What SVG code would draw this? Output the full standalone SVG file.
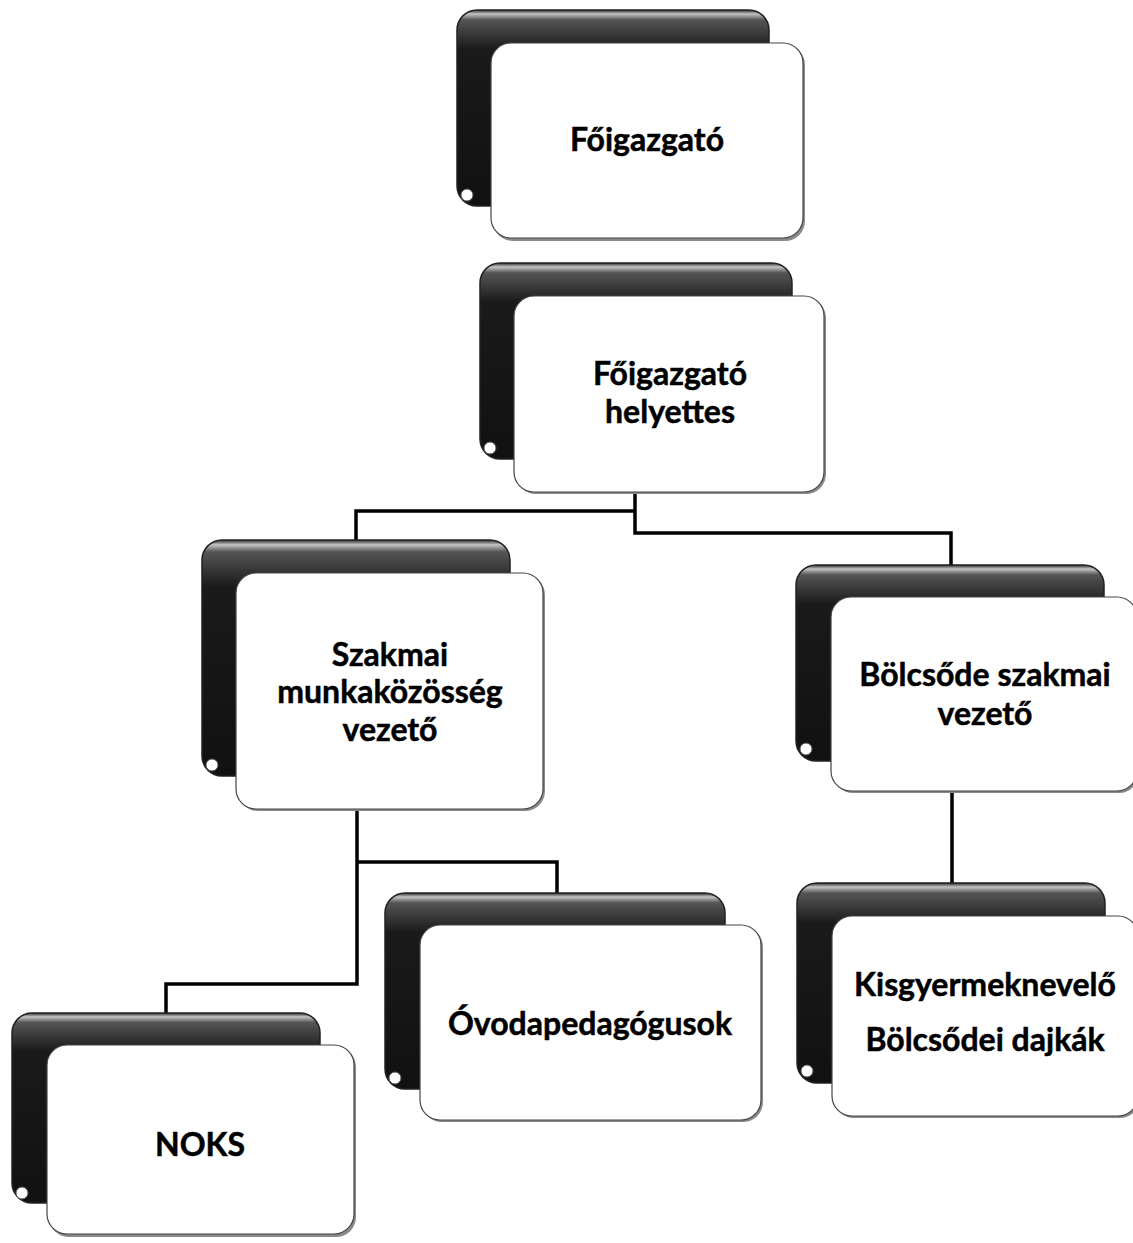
<svg xmlns="http://www.w3.org/2000/svg" width="1133" height="1243" viewBox="0 0 1133 1243">
<defs>
<linearGradient id="dark" x1="0" y1="0" x2="0" y2="1">
<stop offset="0" stop-color="#2a2a2a"/>
<stop offset="0.02" stop-color="#c4c4c4"/>
<stop offset="0.05" stop-color="#555"/>
<stop offset="0.2" stop-color="#1a1a1a"/>
<stop offset="1" stop-color="#111"/>
</linearGradient>
</defs>
<style>
.back{fill:url(#dark);stroke:#222;stroke-width:1.5}
.hole{fill:#fff;stroke:#555;stroke-width:1}
.shadow{fill:#8a8a8a}
.front{fill:#fff;stroke:#444;stroke-width:1.2}
.lbl{font-family:Lato,"Liberation Sans",sans-serif;font-weight:bold;font-size:32px;fill:#000;stroke:#000;stroke-width:0.5;text-anchor:middle}
.conn{fill:none;stroke:#000;stroke-width:3.5}
</style>
<rect width="1133" height="1243" fill="#fff"/>
<g id="connectors">
<path class="conn" d="M635,492 V533 H951 V565"/>
<path class="conn" d="M635,511 H356 V540"/>
<path class="conn" d="M952,790 V883"/>
<path class="conn" d="M357,810 V984 H166 V1013"/>
<path class="conn" d="M357,862 H557 V893"/>
</g>
<g id="n1">
<rect class="back" x="457" y="10" width="312" height="196" rx="20"/>
<circle class="hole" cx="467" cy="195" r="6"/>
<rect class="shadow" x="493" y="45" width="312" height="196" rx="20"/>
<rect class="front" x="491" y="43" width="312" height="195" rx="20"/>
<text class="lbl" x="647" y="151">Főigazgató</text>
</g>
<g id="n2">
<rect class="back" x="480" y="263" width="312" height="196" rx="20"/>
<circle class="hole" cx="490" cy="448" r="6"/>
<rect class="shadow" x="516" y="298" width="310" height="196" rx="20"/>
<rect class="front" x="514" y="296" width="310" height="196" rx="20"/>
<text class="lbl" x="670" y="385">Főigazgató</text>
<text class="lbl" x="670" y="423">helyettes</text>
</g>
<g id="n3">
<rect class="back" x="202" y="540" width="308" height="236" rx="20"/>
<circle class="hole" cx="212" cy="765" r="6"/>
<rect class="shadow" x="238" y="575" width="307" height="236" rx="20"/>
<rect class="front" x="236" y="573" width="307" height="236" rx="20"/>
<text class="lbl" x="390" y="666">Szakmai</text>
<text class="lbl" x="390" y="703">munkaközösség</text>
<text class="lbl" x="390" y="741">vezető</text>
</g>
<g id="n4">
<rect class="back" x="796" y="565" width="308" height="196" rx="20"/>
<circle class="hole" cx="806" cy="749" r="6"/>
<rect class="shadow" x="833" y="599" width="306" height="194" rx="20"/>
<rect class="front" x="831" y="597" width="306" height="194" rx="20"/>
<text class="lbl" x="985" y="686">Bölcsőde szakmai</text>
<text class="lbl" x="985" y="725">vezető</text>
</g>
<g id="n5">
<rect class="back" x="797" y="883" width="308" height="200" rx="20"/>
<circle class="hole" cx="807" cy="1071" r="6"/>
<rect class="shadow" x="834" y="918" width="306" height="200" rx="20"/>
<rect class="front" x="832" y="916" width="306" height="200" rx="20"/>
<text class="lbl" x="985" y="996">Kisgyermeknevelő</text>
<text class="lbl" x="985" y="1051">Bölcsődei dajkák</text>
</g>
<g id="n6">
<rect class="back" x="385" y="893" width="340" height="196" rx="20"/>
<circle class="hole" cx="395" cy="1078" r="6"/>
<rect class="shadow" x="422" y="927" width="341" height="195" rx="20"/>
<rect class="front" x="420" y="925" width="341" height="195" rx="20"/>
<text class="lbl" x="590" y="1035">Óvodapedagógusok</text>
</g>
<g id="n7">
<rect class="back" x="12" y="1013" width="308" height="190" rx="20"/>
<circle class="hole" cx="22" cy="1193" r="6"/>
<rect class="shadow" x="49" y="1047" width="307" height="190" rx="20"/>
<rect class="front" x="47" y="1045" width="307" height="189" rx="20"/>
<text class="lbl" x="200" y="1156">NOKS</text>
</g>
</svg>
